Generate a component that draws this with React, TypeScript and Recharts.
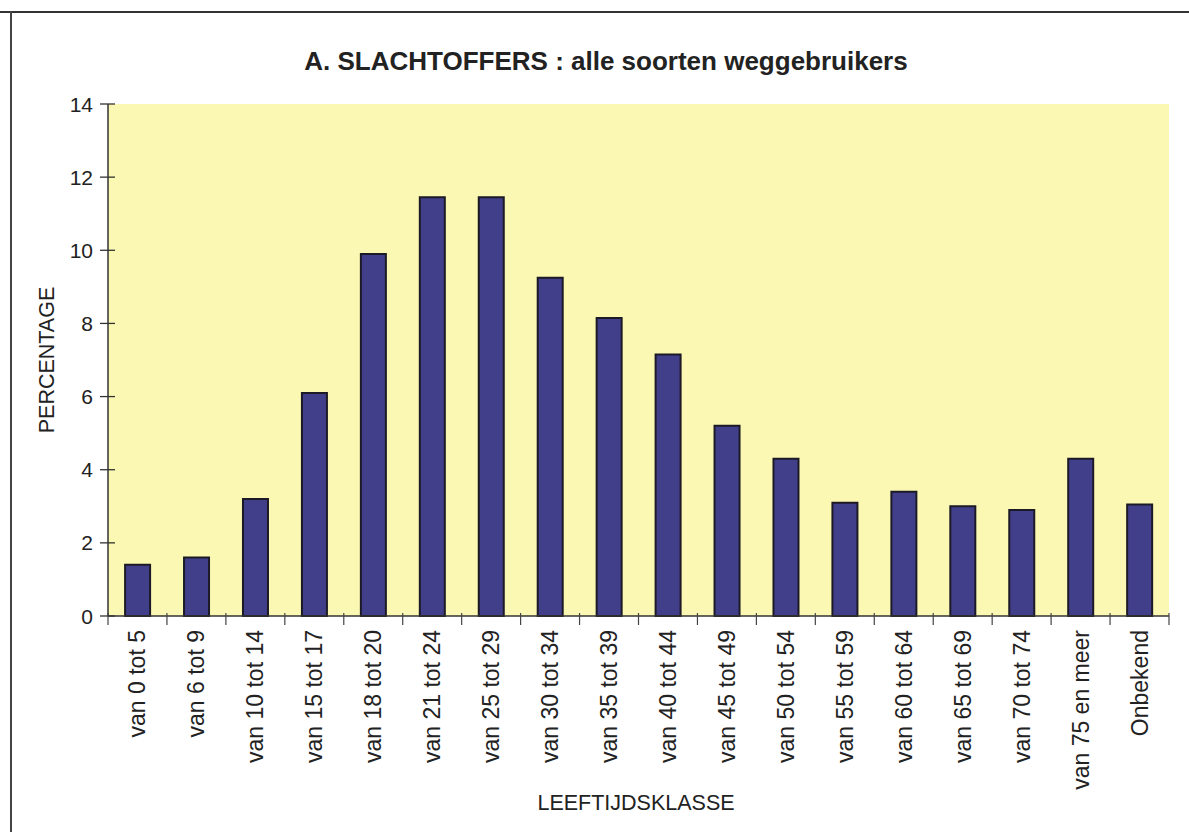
import { BarChart, Bar, XAxis, YAxis, CartesianGrid } from 'recharts';

const CATEGORIES = [
  'van 0 tot 5', 'van 6 tot 9', 'van 10 tot 14', 'van 15 tot 17', 'van 18 tot 20',
  'van 21 tot 24', 'van 25 tot 29', 'van 30 tot 34', 'van 35 tot 39', 'van 40 tot 44',
  'van 45 tot 49', 'van 50 tot 54', 'van 55 tot 59', 'van 60 tot 64', 'van 65 tot 69',
  'van 70 tot 74', 'van 75 en meer', 'Onbekend',
];

const PERCENTAGES = [
  1.4, 1.6, 3.2, 6.1, 9.9, 11.45, 11.45, 9.25, 8.15, 7.15,
  5.2, 4.3, 3.1, 3.4, 3.0, 2.9, 4.3, 3.05,
];

const Y_TICKS = [0, 2, 4, 6, 8, 10, 12, 14];

const W = 1189;
const H = 832;
const PLOT_LEFT = 108;
const PLOT_RIGHT = 1169;
const PLOT_TOP = 104;
const PLOT_BOTTOM = 616;
const BAND = (PLOT_RIGHT - PLOT_LEFT) / CATEGORIES.length;
const FONT = '"Liberation Sans", Arial, Helvetica, sans-serif';
const INK = '#222';

const data = CATEGORIES.map((c, i) => ({ klasse: c, pct: PERCENTAGES[i] }));

function XTick(props: any) {
  const { x, payload, index } = props;
  const half = BAND / 2;
  const ty = PLOT_BOTTOM + 14;
  return (
    <g>
      <line x1={x - half} x2={x - half} y1={PLOT_BOTTOM - 3} y2={PLOT_BOTTOM + 9} stroke="#444" strokeWidth={1.2} />
      {index === CATEGORIES.length - 1 && (
        <line x1={x + half} x2={x + half} y1={PLOT_BOTTOM - 3} y2={PLOT_BOTTOM + 9} stroke="#444" strokeWidth={1.2} />
      )}
      <text
        x={x}
        y={ty}
        transform={`rotate(-90 ${x} ${ty})`}
        textAnchor="end"
        dominantBaseline="central"
        fontFamily={FONT}
        fontSize={23}
        fill={INK}
      >
        {payload.value}
      </text>
    </g>
  );
}

function YTick(props: any) {
  const { y, payload } = props;
  return (
    <g>
      <line x1={PLOT_LEFT - 8} x2={PLOT_LEFT + 7} y1={y} y2={y} stroke="#333" strokeWidth={1.3} />
      <text
        x={PLOT_LEFT - 15}
        y={y}
        textAnchor="end"
        dominantBaseline="central"
        fontFamily={FONT}
        fontSize={21}
        fill={INK}
      >
        {payload.value}
      </text>
    </g>
  );
}

export default function App() {
  return (
    <div style={{ position: 'absolute', left: 0, top: 0, width: W, height: H, background: '#fff', overflow: 'hidden' }}>
      {/* scanned page frame */}
      <div style={{ position: 'absolute', left: 0, top: 11, width: W, height: 2, background: '#333' }} />
      <div style={{ position: 'absolute', left: 10, top: 11, width: 2, height: H - 11, background: '#444' }} />

      <div
        style={{
          position: 'absolute', left: 606, top: 46, transform: 'translateX(-50%)', whiteSpace: 'nowrap',
          fontFamily: FONT, fontWeight: 'bold', fontSize: 26, color: INK,
        }}
      >
        A. SLACHTOFFERS : alle soorten weggebruikers
      </div>

      <BarChart
        width={W}
        height={H}
        data={data}
        margin={{ top: PLOT_TOP, right: W - PLOT_RIGHT, bottom: 36, left: PLOT_LEFT - 50 }}
        barCategoryGap="29%"
      >
        <CartesianGrid horizontal={false} vertical={false} fill="#fbf8b3" />
        <XAxis
          dataKey="klasse"
          interval={0}
          height={180}
          tickLine={false}
          axisLine={{ stroke: '#333', strokeWidth: 1.5 }}
          tick={<XTick />}
        />
        <YAxis
          width={50}
          domain={[0, 14]}
          ticks={Y_TICKS}
          tickLine={false}
          axisLine={{ stroke: '#333', strokeWidth: 1.5 }}
          tick={<YTick />}
        />
        <Bar dataKey="pct" fill="#423f8a" stroke="#1b1a26" strokeWidth={2} isAnimationActive={false} />
      </BarChart>

      <div
        style={{
          position: 'absolute', left: 47, top: 360, transform: 'translate(-50%, -50%) rotate(-90deg)',
          fontFamily: FONT, fontSize: 21.5, color: INK, whiteSpace: 'nowrap',
        }}
      >
        PERCENTAGE
      </div>
      <div
        style={{
          position: 'absolute', left: 636, top: 803, transform: 'translate(-50%, -50%)',
          fontFamily: FONT, fontSize: 21.5, color: INK, whiteSpace: 'nowrap',
        }}
      >
        LEEFTIJDSKLASSE
      </div>
    </div>
  );
}
